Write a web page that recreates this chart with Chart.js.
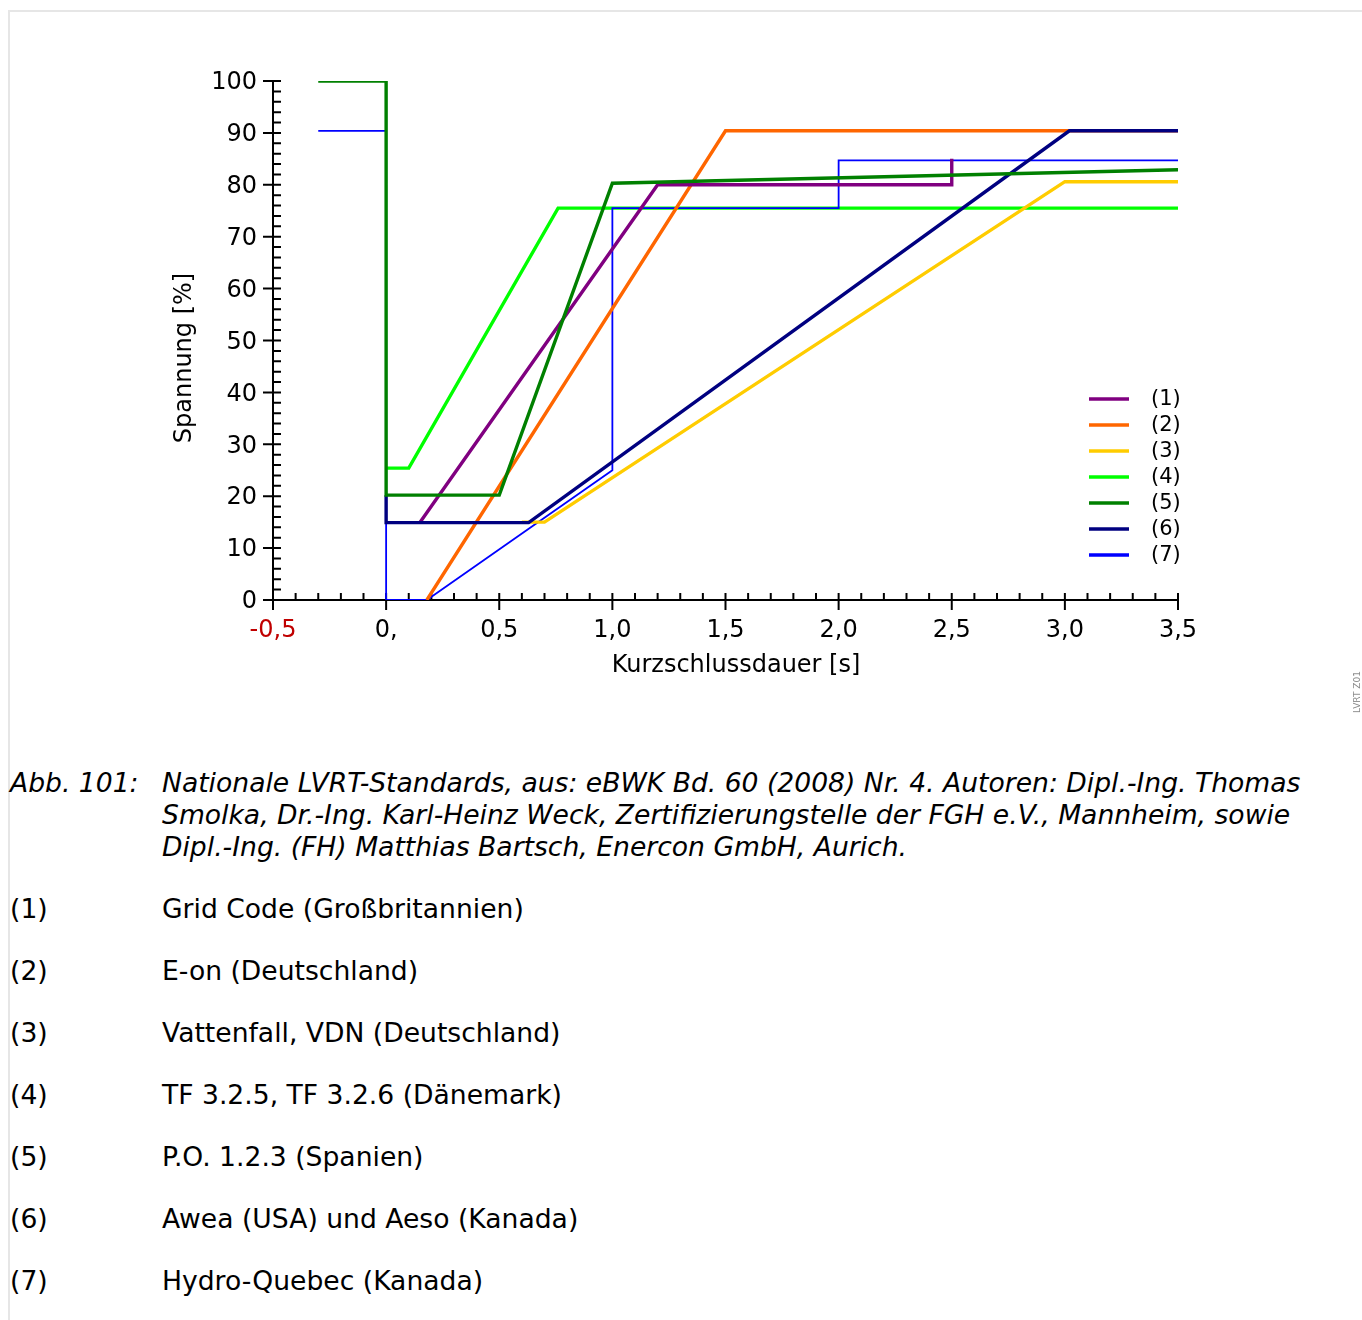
<!DOCTYPE html>
<html>
<head>
<meta charset="utf-8">
<script src="https://cdn.jsdelivr.net/npm/chart.js@4.4.0/dist/chart.umd.min.js"></script>
<style>
  body { margin: 0; background: #fff; font-family: "DejaVu Sans", sans-serif; color: #000; }
  #page { position: relative; width: 1362px; height: 1320px; overflow: hidden; }
  #frame { position: absolute; left: 8px; top: 10px; width: 1400px; height: 1400px;
           border-top: 2px solid #e6e6e6; border-left: 2px solid #e6e6e6; }
  #chart { position: absolute; left: 0; top: 0; }
  .txt { position: absolute; font-size: 26.6px; line-height: 32px; white-space: nowrap; }
  .it { font-style: italic; }
  #tag { position: absolute; left: 1332px; top: 686px; width: 50px; text-align: center;
         font-size: 9px; line-height: 12px; color: #888; transform: rotate(-90deg); white-space: nowrap; }
</style>
</head>
<body>
<div id="page">
  <div id="frame"></div>
  <canvas id="chart" width="1362" height="720"></canvas>
  <div id="tag">LVRT Z01</div>

  <div class="txt it" style="left:10px; top:767px;">Abb. 101:</div>
  <div class="txt it" style="left:162px; top:767px;">Nationale LVRT-Standards, aus: eBWK Bd. 60 (2008) Nr. 4. Autoren: Dipl.-Ing. Thomas<br>Smolka, Dr.-Ing. Karl-Heinz Weck, Zertifizierungstelle der FGH e.V., Mannheim, sowie<br>Dipl.-Ing. (FH) Matthias Bartsch, Enercon GmbH, Aurich.</div>
  <div id="list"></div>
</div>

<script>
// axis ticks
const xTickValues = [-0.5, 0, 0.5, 1.0, 1.5, 2.0, 2.5, 3.0, 3.5];
const xTickLabels = ["-0,5", "0,", "0,5", "1,0", "1,5", "2,0", "2,5", "3,0", "3,5"];
const yTickLabels = ["0", "10", "20", "30", "40", "50", "60", "70", "80", "90", "100"];

// series: Kurzschlussdauer [s] / Spannung [%]
const names = ["(1)", "(2)", "(3)", "(4)", "(5)", "(6)", "(7)"];
const descriptions = [
  "Grid Code (Großbritannien)",
  "E-on (Deutschland)",
  "Vattenfall, VDN (Deutschland)",
  "TF 3.2.5, TF 3.2.6 (Dänemark)",
  "P.O. 1.2.3 (Spanien)",
  "Awea (USA) und Aeso (Kanada)",
  "Hydro-Quebec (Kanada)"
];
const colors = ["#800080", "#ff6600", "#ffcc00", "#00ff00", "#008000", "#000080", "#0000ff"];
const widths = [3.4, 3.4, 3.4, 3.4, 3.4, 3.4, 1.8];
// lower = drawn on top
const layer = [3, 4, 5, 7, 1, 2, 6];

const s1x = [0.15, 1.2, 2.5, 2.5];
const s1y = [15, 80, 80, 85];
const s2x = [0.18, 1.5, 3.5];
const s2y = [0, 90.4, 90.4];
const s3x = [0.6, 0.7, 3.0, 3.5];
const s3y = [15, 15, 80.6, 80.6];
const s4x = [0, 0.1, 0.76, 3.5];
const s4y = [25.4, 25.4, 75.5, 75.5];
const s5x = [-0.3, 0, 0, 0.5, 1.0, 3.5];
const s5y = [100, 100, 20.2, 20.2, 80.3, 82.9];
const s6x = [0, 0, 0.63, 3.02, 3.5];
const s6y = [20.2, 14.9, 14.9, 90.4, 90.4];
const s7x = [-0.3, 0, 0, 0.18, 1.0, 1.0, 2.0, 2.0, 3.5];
const s7y = [90.4, 90.4, 0, 0, 25, 75.5, 75.5, 84.7, 84.7];

const allX = [s1x, s2x, s3x, s4x, s5x, s6x, s7x];
const allY = [s1y, s2y, s3y, s4y, s5y, s6y, s7y];

const datasets = names.map((n, i) => ({
  label: n,
  data: allX[i].map((x, k) => ({ x: x, y: allY[i][k] })),
  borderColor: colors[i],
  backgroundColor: colors[i],
  borderWidth: widths[i],
  pointRadius: 0,
  tension: 0,
  fill: false,
  borderJoinStyle: "miter",
  borderCapStyle: "butt",
  order: layer[i]
}));

const axisFont = { family: "DejaVu Sans", size: 24 };

// axes with inner minor ticks, titles and legend
const decor = {
  id: "decor",
  beforeDatasetsDraw(chart) {
    const ctx = chart.ctx;
    const xs = chart.scales.x, ys = chart.scales.y;
    const a = chart.chartArea;
    ctx.save();
    ctx.strokeStyle = "#000";
    ctx.lineWidth = 2;
    ctx.beginPath();
    ctx.moveTo(a.left, a.top);
    ctx.lineTo(a.left, a.bottom);
    ctx.lineTo(a.right, a.bottom);
    for (let i = 0; i <= 50; i++) {
      const y = ys.getPixelForValue(i * 2);
      ctx.moveTo(i % 5 === 0 ? a.left - 10 : a.left, y);
      ctx.lineTo(a.left + 8, y);
    }
    for (let i = 0; i <= 40; i++) {
      const x = xs.getPixelForValue(-0.5 + i * 0.1);
      ctx.moveTo(x, i % 5 === 0 ? a.bottom + 10 : a.bottom);
      ctx.lineTo(x, a.bottom - 7);
    }
    ctx.stroke();
    ctx.restore();
  },
  afterDraw(chart) {
    const ctx = chart.ctx;
    ctx.save();
    ctx.fillStyle = "#000";
    ctx.font = "24px 'DejaVu Sans'";
    ctx.textAlign = "center";
    ctx.textBaseline = "middle";
    ctx.fillText("Kurzschlussdauer [s]", 736, 666);
    ctx.save();
    ctx.translate(185, 358);
    ctx.rotate(-Math.PI / 2);
    ctx.fillText("Spannung [%]", 0, 0);
    ctx.restore();

    ctx.font = "21px 'DejaVu Sans'";
    ctx.textAlign = "left";
    names.forEach((n, i) => {
      const y = 399 + i * 26;
      ctx.strokeStyle = colors[i];
      ctx.lineWidth = 3.4;
      ctx.beginPath();
      ctx.moveTo(1089, y);
      ctx.lineTo(1129, y);
      ctx.stroke();
      ctx.fillText(n, 1151, y + 1);
    });
    ctx.restore();
  }
};

new Chart(document.getElementById("chart").getContext("2d"), {
  type: "line",
  data: { datasets: datasets },
  options: {
    responsive: false,
    animation: false,
    devicePixelRatio: 1,
    layout: { padding: { left: 173, right: 184, top: 81, bottom: 20 } },
    plugins: { legend: { display: false }, tooltip: { enabled: false } },
    scales: {
      x: {
        type: "linear",
        min: -0.5,
        max: 3.5,
        afterBuildTicks: (s) => { s.ticks = xTickValues.map(v => ({ value: v })); },
        afterFit: (s) => { s.height = 100; },
        grid: { display: false, drawTicks: false },
        border: { display: false },
        ticks: {
          autoSkip: false,
          maxRotation: 0,
          padding: 16,
          font: axisFont,
          color: (c) => (c.index === 0 ? "#c00000" : "#000"),
          callback: (v, i) => xTickLabels[i]
        }
      },
      y: {
        type: "linear",
        min: 0,
        max: 100,
        afterFit: (s) => { s.width = 100; },
        grid: { display: false, drawTicks: false },
        border: { display: false },
        ticks: {
          stepSize: 10,
          padding: 16,
          labelOffset: 2,
          font: axisFont,
          color: "#000",
          callback: (v, i) => yTickLabels[i]
        }
      }
    }
  },
  plugins: [decor]
});

// legend text below the figure
const list = document.getElementById("list");
names.forEach((n, i) => {
  const top = 909 + i * 62 - 16;
  list.insertAdjacentHTML("beforeend",
    '<div class="txt" style="left:10px; top:' + top + 'px;">' + n + '</div>' +
    '<div class="txt" style="left:162px; top:' + top + 'px;">' + descriptions[i] + '</div>');
});
</script>
</body>
</html>
